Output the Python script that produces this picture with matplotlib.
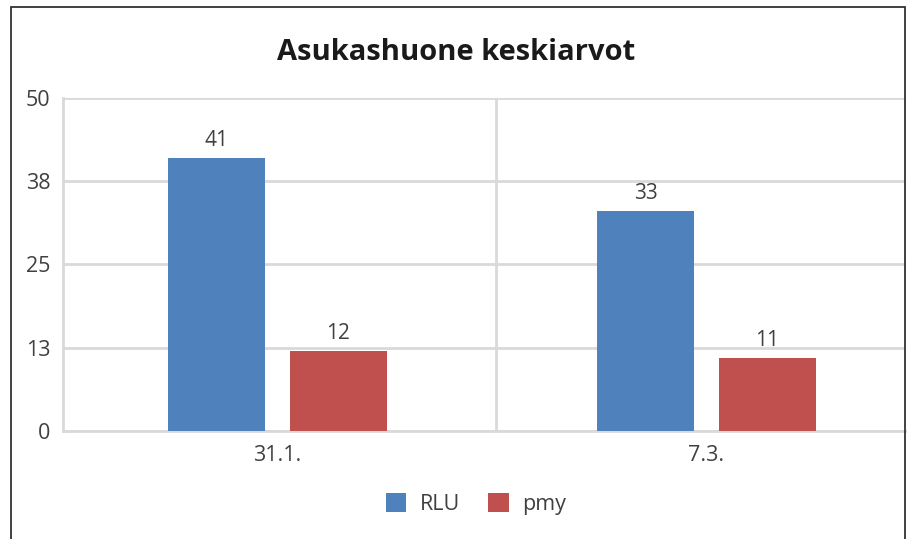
import matplotlib
matplotlib.use("Agg")
import matplotlib.pyplot as plt
from matplotlib.patches import Rectangle, Patch
import numpy as np

categories = ["31.1.", "7.3."]
series_names = ["RLU", "pmy"]
rlu = [41, 33]
pmy = [12, 11]
ytick_vals = [0, 12.5, 25, 37.5, 50]
ytick_labels = ["0", "13", "25", "38", "50"]

colors = ["#4F81BD", "#C0504D"]
text_color = "#404040"
grid_color = "#D9D9D9"

plt.rcParams['font.family'] = ['Open Sans', 'DejaVu Sans']

W, H = 909, 539
fig = plt.figure(figsize=(W / 100, H / 100), dpi=100)

left, right, bottom, top = 63, 905, 431, 97.5
ax = fig.add_axes([left / W, 1 - bottom / H, (right - left) / W, (bottom - top) / H])

x = np.arange(len(categories))
bw = 0.226
off = 0.142
b1 = ax.bar(x - off, rlu, bw, color=colors[0], zorder=3)
b2 = ax.bar(x + off, pmy, bw, color=colors[1], zorder=3)

for bars, vals in ((b1, rlu), (b2, pmy)):
    for rect, v in zip(bars, vals):
        ax.annotate(f"{v}", (rect.get_x() + rect.get_width() / 2, rect.get_height()),
                    xytext=(0, 5), textcoords="offset points", ha="center", va="bottom",
                    fontsize=15, color=text_color)

ax.set_ylim(0, 50)
ax.set_xlim(-0.5, (right - 277.5) / 429.0 - 0.5 + 0.5)
ax.set_yticks(ytick_vals)
ax.set_yticklabels(ytick_labels)
ax.set_xticks(x)
ax.set_xticklabels(categories)
ax.tick_params(axis="both", length=0, labelsize=15.5, colors=text_color)
ax.tick_params(axis="y", pad=9)
ax.tick_params(axis="x", pad=10)

ax.yaxis.grid(True, color=grid_color, linewidth=2, zorder=0)
ax.axvline(0.51, color=grid_color, linewidth=2, zorder=0)
for s in ["top", "right"]:
    ax.spines[s].set_visible(False)
for s in ["left", "bottom"]:
    ax.spines[s].set_color(grid_color)
    ax.spines[s].set_linewidth(2)
    ax.spines[s].set_zorder(1)

fig.text(456 / W, 1 - 53 / H, "Asukashuone keskiarvot", ha="center", va="center",
         fontsize=21, fontweight="bold", color="#1a1a1a")

handles = [Patch(facecolor=c, edgecolor="none") for c in colors]
fig.legend(handles, series_names, loc="center", bbox_to_anchor=(476 / W, 1 - 504 / H),
           ncol=2, frameon=False, fontsize=15.5, handlelength=0.95, handleheight=0.95,
           handletextpad=0.65, columnspacing=1.3, labelcolor=text_color)

fig.patches.append(Rectangle((10.5 / W, -0.05), (904.5 - 10.5) / W, 1.05 - 6.5 / H,
                             transform=fig.transFigure, fill=False,
                             edgecolor="#333333", linewidth=1.3, zorder=10))

fig.savefig("out.png", dpi=100)
